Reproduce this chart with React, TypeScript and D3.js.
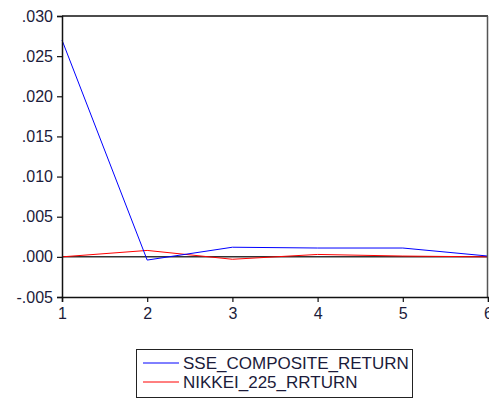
import React, { useEffect, useRef } from 'react'
import * as d3 from 'd3'

const periods = [1, 2, 3, 4, 5, 6]
const sseReturn = [0.027, -0.0004, 0.0012, 0.0011, 0.0011, 0.0001]
const nikkeiReturn = [0.0, 0.0008, -0.0003, 0.0003, 0.0001, 0.0]
const yTicks = [-0.005, 0.0, 0.005, 0.01, 0.015, 0.02, 0.025, 0.03]
const seriesNames = ['SSE_COMPOSITE_RETURN', 'NIKKEI_225_RRTURN']
const seriesColors = ['#0000ff', '#ff0000']

const W = 489
const H = 399
const margin = { top: 16, right: 1, bottom: 100, left: 62 }
const textColor = '#1b1b3a'

const fmt = (d: number) => {
  const s = Math.abs(d).toFixed(3).replace(/^0/, '')
  return d < 0 ? '-' + s : s
}

const App = () => {
  const ref = useRef<SVGSVGElement>(null)

  useEffect(() => {
    const svg = d3.select(ref.current)
    svg.selectAll('*').remove()

    const x = d3.scaleLinear().domain([1, 6]).range([margin.left, W - margin.right])
    const y = d3.scaleLinear().domain([-0.005, 0.03]).range([H - margin.bottom - 2, margin.top])

    const g = svg.append('g')

    // zero line
    g.append('line')
      .attr('x1', x(1)).attr('x2', x(6))
      .attr('y1', y(0)).attr('y2', y(0))
      .attr('stroke', '#333').attr('stroke-width', 1.5)

    const line = d3.line<number>()
      .x((d, i) => x(periods[i]))
      .y(d => y(d))

    ;[nikkeiReturn, sseReturn].forEach((vals, k) => {
      g.append('path')
        .attr('d', line(vals))
        .attr('fill', 'none')
        .attr('stroke', k === 0 ? seriesColors[1] : seriesColors[0])
        .attr('stroke-width', 1)
    })

    // frame
    g.append('line')
      .attr('x1', x(1)).attr('x2', x(6))
      .attr('y1', y(0.03)).attr('y2', y(0.03))
      .attr('stroke', '#111').attr('stroke-width', 1.5)
    g.append('line')
      .attr('x1', x(6) - 0.5).attr('x2', x(6) - 0.5)
      .attr('y1', y(0.03)).attr('y2', y(-0.005))
      .attr('stroke', '#555').attr('stroke-width', 1.5)

    const yAxis = d3.axisLeft(y).tickValues(yTicks).tickFormat(d => fmt(+d)).tickSize(5).tickPadding(4)
    const xAxis = d3.axisBottom(x).tickValues(periods).tickFormat(d3.format('d')).tickSize(5).tickPadding(6)

    const ya = g.append('g').attr('transform', `translate(${x(1)},0)`).call(yAxis)
    const xa = g.append('g').attr('transform', `translate(0,${y(-0.005)})`).call(xAxis)

    ;[ya, xa].forEach(a => {
      a.select('.domain').attr('stroke', '#111').attr('stroke-width', 1.5)
      a.selectAll('.tick line').attr('stroke', '#111').attr('stroke-width', 1.2)
      a.selectAll('.tick text')
        .attr('fill', textColor)
        .style('font-family', 'Liberation Sans, Arial, sans-serif')
        .style('font-size', '16px')
    })

    // legend
    const lg = svg.append('g').attr('transform', 'translate(136,349)')
    lg.append('rect')
      .attr('x', 0.5).attr('y', 0.5)
      .attr('width', 276).attr('height', 48)
      .attr('fill', 'white').attr('stroke', '#222').attr('stroke-width', 1)
    seriesNames.forEach((name, i) => {
      const ly = 14 + i * 19
      lg.append('line')
        .attr('x1', 7).attr('x2', 43)
        .attr('y1', ly).attr('y2', ly)
        .attr('stroke', seriesColors[i]).attr('stroke-width', 1)
      lg.append('text')
        .attr('x', 47).attr('y', ly)
        .attr('dy', '0.36em')
        .attr('fill', textColor)
        .style('font-family', 'Liberation Sans, Arial, sans-serif')
        .style('font-size', '17px')
        .text(name)
    })
  }, [])

  return (
    <svg ref={ref} width={W} height={H}
      style={{ position: 'absolute', left: 0, top: 0, background: 'white' }} />
  )
}

export default App
